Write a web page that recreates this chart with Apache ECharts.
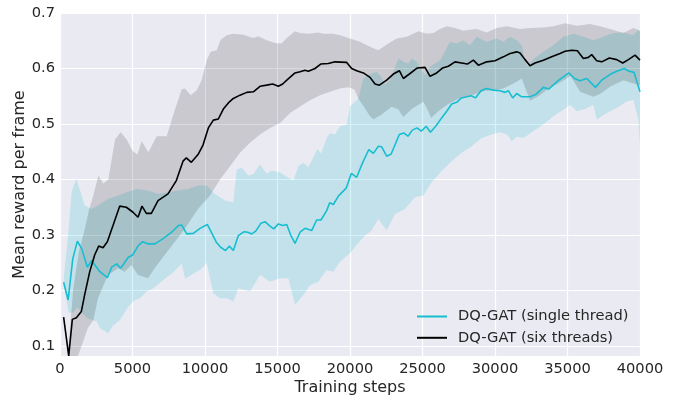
<!DOCTYPE html>
<html>
<head>
<meta charset="utf-8">
<script src="https://cdn.jsdelivr.net/npm/echarts@6/dist/echarts.min.js"></script>
<style>
html,body{margin:0;padding:0;background:#fff;}
#c{width:678px;height:401px;}
</style>
</head>
<body>
<div id="c"></div>
<script>
// ---- data (training step, value) ----
const seriesNames = ['DQ-GAT (single thread)', 'DQ-GAT (six threads)'];
const xTicks = [0, 5000, 10000, 15000, 20000, 25000, 30000, 35000, 40000];
const yTicks = [0.1, 0.2, 0.3, 0.4, 0.5, 0.6, 0.7];

const singleMean = [[250,0.215],[560,0.183],[880,0.257],[1200,0.289],[1500,0.275],[1890,0.242],[2180,0.254],[2710,0.235],[3270,0.223],[3560,0.242],[3910,0.248],[4180,0.240],[4710,0.260],[5010,0.264],[5400,0.281],[5700,0.288],[6090,0.284],[6550,0.284],[7130,0.294],[7700,0.305],[8160,0.317],[8390,0.318],[8740,0.302],[9200,0.303],[9660,0.312],[10160,0.319],[10780,0.287],[11080,0.278],[11420,0.272],[11680,0.280],[11955,0.272],[12300,0.299],[12700,0.306],[12950,0.305],[13220,0.302],[13500,0.307],[13850,0.321],[14140,0.324],[14440,0.317],[14740,0.311],[15060,0.320],[15360,0.317],[15634,0.319],[15910,0.300],[16210,0.285],[16554,0.305],[16900,0.312],[17357,0.308],[17702,0.327],[18000,0.327],[18392,0.344],[18600,0.358],[18852,0.355],[19197,0.370],[19750,0.385],[20090,0.411],[20461,0.404],[20851,0.429],[21300,0.454],[21610,0.447],[21955,0.460],[22185,0.459],[22530,0.442],[22840,0.446],[23400,0.481],[23700,0.484],[24000,0.478],[24300,0.489],[24620,0.493],[24920,0.487],[25250,0.496],[25550,0.485],[25940,0.497],[26320,0.511],[26670,0.523],[27013,0.536],[27357,0.539],[27680,0.547],[28047,0.549],[28360,0.551],[28650,0.547],[29036,0.560],[29400,0.564],[29900,0.561],[30350,0.560],[30692,0.557],[30921,0.560],[31220,0.547],[31496,0.555],[31841,0.549],[32416,0.549],[32800,0.553],[33336,0.566],[33700,0.563],[34400,0.579],[35100,0.592],[35480,0.582],[35864,0.578],[36324,0.582],[36930,0.566],[37358,0.579],[37980,0.590],[38400,0.595],[38900,0.600],[39250,0.595],[39588,0.593],[40000,0.558]];

const sixMean = [[250,0.152],[600,0.082],[850,0.148],[1130,0.151],[1470,0.162],[1700,0.192],[2050,0.234],[2390,0.264],[2670,0.280],[2966,0.277],[3265,0.288],[3655,0.317],[4115,0.352],[4575,0.350],[5035,0.341],[5380,0.332],[5656,0.352],[5955,0.339],[6300,0.339],[6760,0.362],[7449,0.374],[8023,0.398],[8483,0.433],[8713,0.439],[9058,0.431],[9518,0.445],[9863,0.462],[10231,0.493],[10576,0.507],[10920,0.509],[11265,0.527],[11610,0.538],[11955,0.546],[12415,0.552],[12875,0.557],[13334,0.558],[13794,0.568],[14254,0.570],[14668,0.572],[15059,0.568],[15358,0.572],[15679,0.580],[16208,0.592],[16553,0.594],[16898,0.597],[17128,0.595],[17587,0.600],[17978,0.608],[18507,0.609],[18967,0.612],[19772,0.611],[20116,0.600],[20461,0.596],[20921,0.592],[21380,0.584],[21726,0.572],[22025,0.570],[22530,0.579],[22990,0.590],[23404,0.596],[23680,0.582],[24140,0.591],[24645,0.601],[25174,0.602],[25519,0.586],[25979,0.592],[26393,0.601],[26783,0.604],[27243,0.612],[27703,0.610],[28094,0.608],[28508,0.615],[28853,0.606],[29427,0.612],[30002,0.614],[30577,0.621],[31037,0.627],[31497,0.630],[31726,0.628],[32071,0.616],[32416,0.605],[32761,0.610],[33336,0.615],[33911,0.621],[34486,0.627],[34831,0.631],[35290,0.633],[35681,0.632],[36095,0.618],[36440,0.620],[36670,0.625],[37015,0.614],[37359,0.612],[37888,0.619],[38394,0.616],[38808,0.610],[39199,0.616],[39658,0.624],[40000,0.615]];

const singleUpper = [[250,0.22],[600,0.311],[800,0.377],[1126,0.402],[1356,0.383],[1701,0.353],[2161,0.347],[2621,0.353],[3311,0.365],[4000,0.371],[4690,0.378],[5288,0.383],[6069,0.380],[6759,0.374],[7449,0.377],[8138,0.380],[8828,0.383],[9518,0.389],[10116,0.389],[10690,0.374],[11380,0.362],[11955,0.359],[12185,0.418],[12530,0.421],[12990,0.407],[13334,0.410],[13794,0.427],[14254,0.411],[14600,0.416],[15174,0.4125],[15634,0.405],[16093,0.398],[16438,0.424],[16783,0.430],[17130,0.422],[17473,0.440],[17750,0.455],[18000,0.447],[18392,0.475],[18622,0.484],[18967,0.481],[19312,0.496],[19772,0.499],[20002,0.532],[20576,0.546],[20921,0.582],[21400,0.590],[21841,0.594],[22150,0.585],[22400,0.571],[22760,0.579],[23335,0.618],[23700,0.612],[24024,0.609],[24250,0.618],[24600,0.612],[25174,0.588],[25520,0.603],[26209,0.615],[26898,0.648],[27358,0.645],[27818,0.651],[28278,0.642],[28738,0.657],[29427,0.648],[30117,0.654],[30580,0.648],[31037,0.657],[31500,0.651],[31842,0.642],[32186,0.603],[32700,0.618],[33336,0.630],[34026,0.642],[34716,0.657],[35405,0.6625],[36100,0.657],[36785,0.651],[37475,0.657],[38164,0.664],[38854,0.665],[39543,0.660],[39900,0.670],[40000,0.665]];

const singleLower = [[250,0.21],[600,0.16],[900,0.16],[1200,0.17],[1500,0.16],[1900,0.15],[2529,0.144],[2759,0.132],[3334,0.123],[3600,0.135],[4138,0.147],[4713,0.171],[5173,0.183],[5518,0.186],[5978,0.198],[6438,0.204],[7127,0.219],[7817,0.233],[8392,0.248],[8621,0.221],[9196,0.230],[9771,0.239],[10116,0.250],[10576,0.195],[11035,0.186],[11495,0.186],[11955,0.180],[12300,0.204],[13105,0.198],[13794,0.228],[14484,0.216],[15174,0.222],[15748,0.222],[16208,0.174],[16783,0.192],[17243,0.2095],[17817,0.216],[18392,0.237],[18852,0.234],[19312,0.252],[20002,0.267],[20346,0.279],[21035,0.299],[21495,0.308],[21955,0.329],[22530,0.308],[23104,0.338],[23794,0.347],[24484,0.368],[25059,0.371],[25633,0.395],[26323,0.4155],[27013,0.433],[27702,0.448],[28392,0.460],[29082,0.475],[29772,0.481],[30347,0.485],[30850,0.481],[31151,0.469],[31500,0.477],[31956,0.475],[32646,0.487],[33336,0.499],[34025,0.514],[34715,0.5256],[35175,0.5345],[35634,0.523],[36200,0.527],[36784,0.5345],[37014,0.508],[37704,0.520],[38393,0.529],[39083,0.5405],[39543,0.5435],[39887,0.508],[40000,0.460]];

const sixUpper = [[250,0.155],[600,0.10],[900,0.20],[1300,0.27],[1700,0.31],[2000,0.345],[2300,0.371],[2644,0.407],[2989,0.393],[3334,0.400],[3794,0.472],[4184,0.485],[4598,0.472],[5000,0.452],[5334,0.445],[5633,0.469],[6093,0.449],[6668,0.478],[7357,0.478],[7817,0.517],[8392,0.5625],[8622,0.564],[9012,0.552],[9426,0.561],[9771,0.579],[10116,0.615],[10392,0.630],[10806,0.633],[11081,0.652],[11495,0.660],[11955,0.6625],[12645,0.661],[13334,0.655],[13679,0.658],[14254,0.651],[14829,0.646],[15289,0.645],[15634,0.655],[16209,0.667],[16553,0.664],[17128,0.6625],[17817,0.665],[18162,0.6625],[18852,0.6625],[19312,0.660],[20002,0.654],[20691,0.648],[21381,0.639],[21956,0.633],[22645,0.645],[23220,0.654],[23910,0.657],[24715,0.667],[25289,0.6625],[25749,0.664],[26209,0.671],[26669,0.676],[27243,0.673],[27818,0.668],[28278,0.670],[28738,0.671],[29427,0.665],[30117,0.673],[30807,0.676],[31726,0.671],[32416,0.673],[33336,0.674],[34026,0.676],[34831,0.6815],[35635,0.677],[36555,0.680],[37245,0.676],[37934,0.671],[38854,0.664],[39543,0.673],[40000,0.668]];

const sixLower = [[250,0.15],[600,0.02],[1240,0.05],[1930,0.133],[2300,0.147],[2621,0.186],[3311,0.228],[4000,0.240],[4460,0.234],[4920,0.246],[5380,0.228],[6069,0.222],[6529,0.240],[7219,0.264],[7909,0.2875],[8598,0.311],[9518,0.347],[10346,0.371],[11035,0.400],[11725,0.424],[12415,0.448],[13105,0.466],[13794,0.481],[14484,0.493],[15174,0.502],[15863,0.520],[16553,0.5315],[17243,0.543],[17933,0.552],[18622,0.558],[19312,0.564],[19887,0.566],[20300,0.562],[20576,0.546],[21380,0.514],[21610,0.508],[22185,0.517],[22875,0.531],[23334,0.526],[23679,0.5125],[24254,0.527],[25059,0.540],[25404,0.523],[25587,0.511],[26093,0.523],[26783,0.536],[27473,0.546],[28392,0.552],[29312,0.560],[30002,0.561],[30577,0.564],[31496,0.576],[31841,0.582],[32416,0.542],[33100,0.552],[33800,0.566],[34300,0.572],[34900,0.581],[35200,0.587],[35865,0.558],[36785,0.549],[37300,0.555],[37934,0.567],[38854,0.579],[39543,0.573],[40000,0.570]];

// ---- chart ----
const TEXT = '#262626';
const FONT = 'DejaVu Sans';
const CYAN = '#17BECF';
const BLACK = '#000000';
const TICK_SIZE = 14.67;
const TITLE_SIZE = 16;

function bandPolygon(upper, lower) {
  return upper.concat(lower.slice().reverse());
}

function bandSeries(name, upper, lower, fill) {
  const poly = bandPolygon(upper, lower);
  return {
    type: 'custom',
    name: name,
    silent: true,
    z: 1,
    data: poly,
    encode: { x: 0, y: 1 },
    renderItem: function (params, api) {
      if (params.dataIndex !== 0) return null;
      const cs = params.coordSys;
      const pts = poly.map(function (p) {
        const c = api.coord(p);
        return [Math.min(Math.max(c[0], cs.x), cs.x + cs.width),
                Math.min(Math.max(c[1], cs.y), cs.y + cs.height)];
      });
      return { type: 'polygon', shape: { points: pts }, style: { fill: fill, stroke: null } };
    }
  };
}

const LINE_ICON = 'path://M0,0H30V2H0Z';

const chart = echarts.init(document.getElementById('c'), null, { renderer: 'canvas' });
chart.setOption({
  animation: false,
  backgroundColor: '#ffffff',
  textStyle: { fontFamily: FONT, color: TEXT },
  grid: { left: 60, right: 38, top: 13, bottom: 43, show: true, backgroundColor: '#EAEAF2', borderWidth: 0 },
  xAxis: {
    type: 'value', min: xTicks[0], max: xTicks[xTicks.length - 1], interval: xTicks[1] - xTicks[0],
    name: 'Training steps', nameLocation: 'middle', nameGap: 24, nameMoveOverlap: false,
    nameTextStyle: { fontFamily: FONT, fontSize: TITLE_SIZE, color: TEXT },
    axisLine: { show: false }, axisTick: { show: false },
    axisLabel: { fontFamily: FONT, fontSize: TICK_SIZE, color: TEXT, margin: 6, formatter: function (v) { return String(v); } },
    splitLine: { show: true, lineStyle: { color: '#ffffff', width: 1.2 } }
  },
  yAxis: {
    type: 'value', min: 0.082, max: yTicks[yTicks.length - 1],
    name: 'Mean reward per frame', nameLocation: 'middle', nameGap: 32, nameMoveOverlap: false,
    nameTextStyle: { fontFamily: FONT, fontSize: TITLE_SIZE, color: TEXT },
    axisLine: { show: false }, axisTick: { show: false },
    axisLabel: {
      fontFamily: FONT, fontSize: TICK_SIZE, color: TEXT, margin: 5, showMinLabel: false,
      formatter: function (v) {
        const r = Math.round(v * 10) / 10;
        return Math.abs(r - v) < 1e-6 ? r.toFixed(1) : '';
      }
    },
    splitLine: { show: true, showMinLine: false, lineStyle: { color: '#ffffff', width: 1.2 } }
  },
  legend: {
    orient: 'vertical', left: 412, top: 304, itemWidth: 30, itemHeight: 14, itemGap: 6.3,
    data: [
      { name: seriesNames[0], icon: LINE_ICON, itemStyle: { color: CYAN } },
      { name: seriesNames[1], icon: LINE_ICON, itemStyle: { color: BLACK } }
    ],
    textStyle: { fontFamily: FONT, fontSize: TICK_SIZE, color: TEXT, padding: [0, 0, 0, 6] }
  },
  series: [
    bandSeries('singleBand', singleUpper, singleLower, 'rgba(23,190,207,0.18)'),
    bandSeries('sixBand', sixUpper, sixLower, 'rgba(0,0,0,0.14)'),
    {
      type: 'line', name: seriesNames[0], data: singleMean, symbol: 'none', z: 3,
      lineStyle: { color: CYAN, width: 1.6 }, itemStyle: { color: CYAN }
    },
    {
      type: 'line', name: seriesNames[1], data: sixMean, symbol: 'none', z: 4,
      lineStyle: { color: BLACK, width: 1.6 }, itemStyle: { color: BLACK }
    }
  ]
});
</script>
</body>
</html>
